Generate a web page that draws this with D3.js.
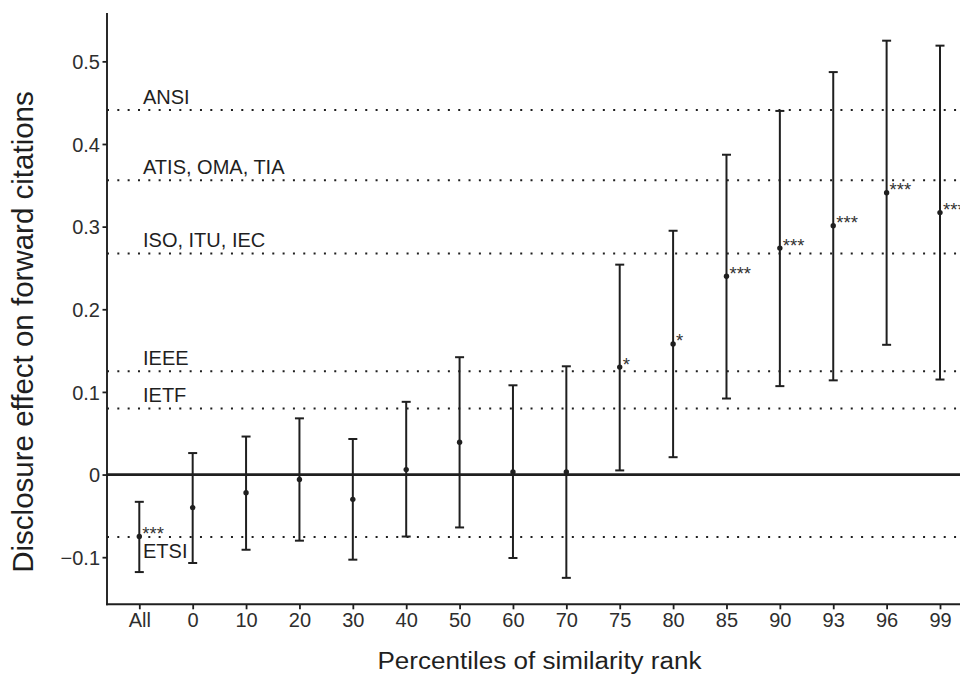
<!DOCTYPE html>
<html>
<head>
<meta charset="utf-8">
<script src="https://cdn.jsdelivr.net/npm/d3@7"></script>
<style>
  html, body { margin: 0; padding: 0; background: #fff; }
  svg { display: block; font-family: "Liberation Sans", Arial, Helvetica, sans-serif; }
</style>
</head>
<body>
<svg id="chart" width="960" height="674"></svg>
<script>
const categories = ["All","0","10","20","30","40","50","60","70","75","80","85","90","93","96","99"];
const estimates = [-0.075, -0.040, -0.022, -0.006, -0.030, 0.006, 0.039, 0.003, 0.003, 0.130, 0.158, 0.240, 0.274, 0.301, 0.341, 0.317];
const lower = [-0.118, -0.107, -0.091, -0.080, -0.103, -0.075, -0.064, -0.101, -0.125, 0.005, 0.021, 0.092, 0.107, 0.114, 0.157, 0.115];
const upper = [-0.033, 0.026, 0.046, 0.068, 0.043, 0.088, 0.142, 0.108, 0.131, 0.254, 0.295, 0.387, 0.440, 0.487, 0.525, 0.519];
const signif = ["***","","","","","","","","","*","*","***","***","***","***","***"];

const refNames = ["ANSI","ATIS, OMA, TIA","ISO, ITU, IEC","IEEE","IETF","ETSI"];
const refValues = [0.441, 0.356, 0.2675, 0.125, 0.080, -0.0755];
const refBelow = [false, false, false, false, false, true];

const yTicks = [-0.1, 0, 0.1, 0.2, 0.3, 0.4, 0.5];

const svg = d3.select("#chart");
const panel = { left: 107, right: 972, top: 13, bottom: 604.3 };
const ink = "#1f1f1f";

const x = d3.scalePoint().domain(categories).range([139.3, 940]);
const y = d3.scaleLinear().domain([-0.157, 0.5585]).range([panel.bottom, panel.top]);

// reference dotted lines
const refs = refNames.map((n, i) => ({ name: n, value: refValues[i], below: refBelow[i] }));
svg.append("g").selectAll("line").data(refs).join("line")
  .attr("x1", panel.left).attr("x2", panel.right)
  .attr("y1", d => y(d.value)).attr("y2", d => y(d.value))
  .attr("stroke", ink).attr("stroke-width", 2)
  .attr("stroke-dasharray", "2,8.33");

svg.append("g").selectAll("text").data(refs).join("text")
  .attr("x", 143)
  .attr("y", d => d.below ? y(d.value) + 21 : y(d.value) - 6)
  .attr("font-size", 20)
  .attr("fill", ink)
  .text(d => d.name);

// zero line
svg.append("line")
  .attr("x1", panel.left).attr("x2", panel.right)
  .attr("y1", y(0)).attr("y2", y(0))
  .attr("stroke", ink).attr("stroke-width", 2.8);

// error bars
const pts = categories.map((c, i) => ({ c, est: estimates[i], lo: lower[i], hi: upper[i], s: signif[i] }));
const g = svg.append("g");
g.selectAll("line.v").data(pts).join("line").attr("class", "v")
  .attr("x1", d => x(d.c)).attr("x2", d => x(d.c))
  .attr("y1", d => y(d.lo)).attr("y2", d => y(d.hi))
  .attr("stroke", ink).attr("stroke-width", 2);
g.selectAll("line.top").data(pts).join("line").attr("class", "top")
  .attr("x1", d => x(d.c) - 4.5).attr("x2", d => x(d.c) + 4.5)
  .attr("y1", d => y(d.hi)).attr("y2", d => y(d.hi))
  .attr("stroke", ink).attr("stroke-width", 2);
g.selectAll("line.bot").data(pts).join("line").attr("class", "bot")
  .attr("x1", d => x(d.c) - 4.5).attr("x2", d => x(d.c) + 4.5)
  .attr("y1", d => y(d.lo)).attr("y2", d => y(d.lo))
  .attr("stroke", ink).attr("stroke-width", 2);
g.selectAll("circle").data(pts).join("circle")
  .attr("cx", d => x(d.c)).attr("cy", d => y(d.est)).attr("r", 2.7)
  .attr("fill", ink);
g.selectAll("text").data(pts.filter(d => d.s)).join("text")
  .attr("x", d => x(d.c) + 3)
  .attr("y", d => y(d.est) + 3.5)
  .attr("font-size", 18.5)
  .attr("fill", "#333")
  .text(d => d.s);

// axes
const fmt = v => v === 0 ? "0" : d3.format(".1f")(v).replace("-", "\u2212");
const yAxis = svg.append("g").attr("transform", `translate(${panel.left},0)`)
  .call(d3.axisLeft(y).tickValues(yTicks).tickFormat(fmt).tickSize(4.5).tickPadding(2.5));
yAxis.select(".domain").remove();
yAxis.selectAll(".tick line").attr("stroke", ink).attr("stroke-width", 1.8);
yAxis.selectAll(".tick text").attr("font-size", 20).attr("fill", "#2e2e2e")
  .attr("font-family", "'Liberation Sans', Arial, sans-serif").attr("dy", "0.36em");

const xAxis = svg.append("g").attr("transform", `translate(0,${panel.bottom})`)
  .call(d3.axisBottom(x).tickSize(5).tickPadding(3.5));
xAxis.select(".domain").remove();
xAxis.selectAll(".tick line").attr("stroke", ink).attr("stroke-width", 1.8);
xAxis.selectAll(".tick text").attr("font-size", 20).attr("fill", "#2e2e2e")
  .attr("font-family", "'Liberation Sans', Arial, sans-serif");

svg.append("line").attr("x1", panel.left).attr("x2", panel.left)
  .attr("y1", panel.top).attr("y2", panel.bottom + 0.9)
  .attr("stroke", ink).attr("stroke-width", 1.9);
svg.append("line").attr("x1", panel.left - 0.9).attr("x2", panel.right)
  .attr("y1", panel.bottom).attr("y2", panel.bottom)
  .attr("stroke", ink).attr("stroke-width", 1.9);

// titles
svg.append("text")
  .attr("x", (panel.left + panel.right) / 2).attr("y", 669)
  .attr("text-anchor", "middle").attr("font-size", 23).attr("fill", ink)
  .attr("textLength", 324).attr("lengthAdjust", "spacingAndGlyphs")
  .text("Percentiles of similarity rank");
svg.append("text")
  .attr("transform", "translate(33.3,332) rotate(-90)")
  .attr("text-anchor", "middle").attr("font-size", 29.5).attr("fill", ink)
  .text("Disclosure effect on forward citations");
</script>
</body>
</html>
